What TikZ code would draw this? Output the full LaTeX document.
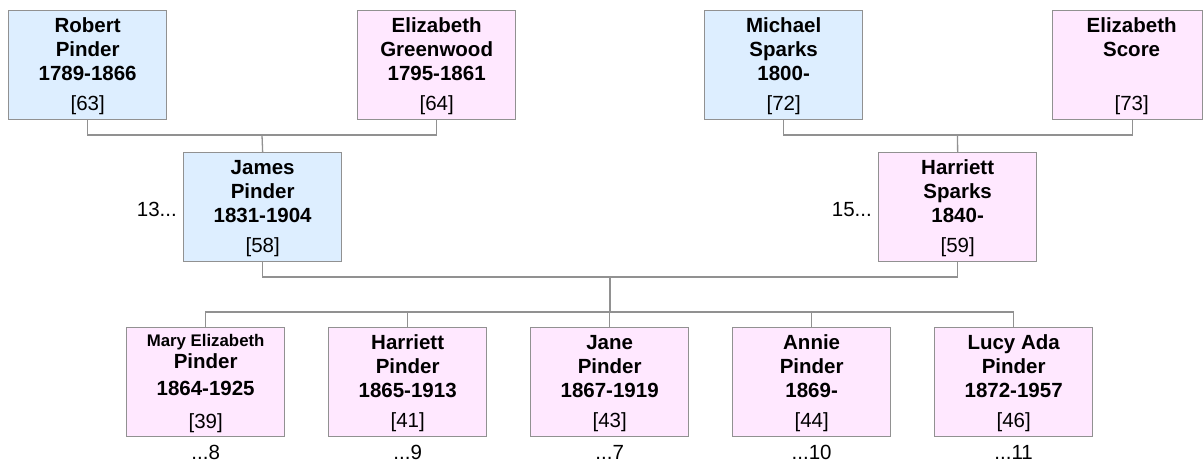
\documentclass[tikz,border=0pt]{standalone}
\usepackage{fontspec}
\setmainfont{Liberation Sans}
\definecolor{mblue}{RGB}{221,238,255}
\definecolor{fpink}{RGB}{255,232,255}
\definecolor{lgray}{RGB}{145,145,145}
\tikzset{
  person/.style={draw=lgray, line width=1.3pt, minimum width=158pt, minimum height=109pt, inner sep=0pt, anchor=north west},
  male/.style={person, fill=mblue},
  female/.style={person, fill=fpink},
  nm/.style={font=\bfseries\fontsize{20.5}{24}\selectfont, anchor=base, inner sep=0pt},
  smallnm/.style={font=\bfseries\fontsize{16.8}{20}\selectfont, anchor=base, inner sep=0pt},
  refno/.style={font=\fontsize{20.5}{24}\selectfont, anchor=base, inner sep=0pt},
  more/.style={font=\fontsize{20.5}{24}\selectfont, inner sep=0pt},
  conn/.style={draw=lgray, line width=1.3pt}
}
\newcommand\pbox[8]{%
  \node[#2] (#1) at (#3,#4) {};
  \node[nm] (#1-a) at ([yshift=-22pt]#1.north) {#5};
  \node[nm] (#1-b) at ([yshift=-46pt]#1.north) {#6};
  \node[nm] (#1-c) at ([yshift=-70pt]#1.north) {#7};
  \node[refno] (#1-r) at ([yshift=-100pt]#1.north) {#8};
}
\newcommand\kidmore[2]{%
  \node[more, anchor=base] (#1-more) at ([yshift=-22pt]#1.south) {#2};
}
\begin{document}
\begin{tikzpicture}[x=1pt,y=-1pt]
\useasboundingbox (0,0) rectangle (1204,464);
% grandparents
\pbox{robert}{male}{8}{10}{Robert}{Pinder}{1789-1866}{[63]}
\pbox{greenwood}{female}{357}{10}{Elizabeth}{Greenwood}{1795-1861}{[64]}
\pbox{michael}{male}{704}{10}{Michael}{Sparks}{1800-}{[72]}
\node[female, minimum width=150pt] (score) at (1052,10) {};
\node[nm] (score-a) at ([xshift=4pt,yshift=-22pt]score.north) {Elizabeth};
\node[nm] (score-b) at ([xshift=4pt,yshift=-46pt]score.north) {Score};
\node[refno] (score-r) at ([xshift=4pt,yshift=-100pt]score.north) {[73]};
\coordinate (scoredown) at ([xshift=5pt]score.south);
% parents
\pbox{james}{male}{183}{152}{James}{Pinder}{1831-1904}{[58]}
\pbox{hsparks}{female}{878}{152}{Harriett}{Sparks}{1840-}{[59]}
\node[more, anchor=base east] (james-more) at (177,216) {13...};
\node[more, anchor=base east] (hsparks-more) at (872,216) {15...};
% children
\node[female] (mary) at (126,327) {};
\node[smallnm] (mary-a) at ([yshift=-19pt]mary.north) {Mary Elizabeth};
\node[nm] (mary-b) at ([yshift=-41pt]mary.north) {Pinder};
\node[nm] (mary-c) at ([yshift=-68pt]mary.north) {1864-1925};
\node[refno] (mary-r) at ([yshift=-101pt]mary.north) {[39]};
\pbox{harriett}{female}{328}{327}{Harriett}{Pinder}{1865-1913}{[41]}
\pbox{jane}{female}{530}{327}{Jane}{Pinder}{1867-1919}{[43]}
\pbox{annie}{female}{732}{327}{Annie}{Pinder}{1869-}{[44]}
\pbox{lucy}{female}{934}{327}{Lucy Ada}{Pinder}{1872-1957}{[46]}
\kidmore{mary}{...8}
\kidmore{harriett}{...9}
\kidmore{jane}{...7}
\kidmore{annie}{...10}
\kidmore{lucy}{...11}
% connectors
\coordinate (pj) at (262,135);
\coordinate (ph) at (957.5,135);
\draw[conn] (robert.south) |- (pj) -| (greenwood.south);
\draw[conn] (pj) -- (james.north);
\draw[conn] (michael.south) |- (ph) -| (scoredown);
\draw[conn] (ph) -- (hsparks.north);
\coordinate (fam) at (610,277);
\coordinate (kids) at (610,312);
\draw[conn] (james.south) |- (fam) -| (hsparks.south);
\draw[conn] (fam) -- (kids);
\draw[conn] (mary.north) |- (kids) -| (lucy.north);
\draw[conn] (harriett.north) -- (harriett.north |- kids);
\draw[conn] (jane.north) -- (jane.north |- kids);
\draw[conn] (annie.north) -- (annie.north |- kids);
\end{tikzpicture}
\end{document}
